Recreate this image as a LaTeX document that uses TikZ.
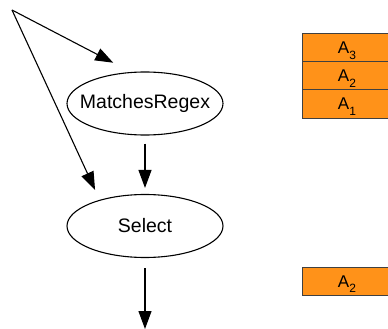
\documentclass[tikz,border=0pt]{standalone}
\usepackage{fontspec}
\setmainfont{Liberation Sans}
\usetikzlibrary{shapes.geometric,arrows.meta}
\definecolor{tuple}{HTML}{FF9219}
% lowered index that does not change the height of the label
\newcommand{\lowidx}[1]{\raisebox{-5.5pt}[0pt][0pt]{\fontsize{12}{12}\selectfont #1}}

\begin{document}
\begin{tikzpicture}[x=1pt,y=-1pt,
  op/.style={draw,ellipse,line width=1.1pt,minimum width=156pt,minimum height=63pt,inner sep=0pt,font=\fontsize{19.5}{20}\selectfont},
  row/.style={draw=black!75,fill=tuple,line width=0.8pt,minimum width=90pt,minimum height=28.5pt,inner sep=0pt,font=\fontsize{17}{18}\selectfont},
  flow/.style={line width=1.1pt,-{Triangle[length=18pt,width=13pt]}}]
\useasboundingbox (0,0) rectangle (388,329);
\clip (0,0) rectangle (388,329);
% operators
\node[op] (match) at (145,103.5) {\makebox[0pt]{MatchesRegex}};
\node[op] (select) at (145,226) {\makebox[0pt]{Select}};
\coordinate (in) at (12,10);
\coordinate (out) at (145,329);
\draw[flow,shorten >=20pt] (in) -- (match.114);
\draw[flow,shorten >=11pt] (in) -- (select.150);
\draw[flow,shorten <=8pt,shorten >=6pt] (match) -- (select);
\draw[flow,shorten <=10pt] (select) -- (out);
% tuples before and after
\foreach \k [count=\r from 0] in {3,2,1}
  \node[row] (a\k) at (347,48+28*\r) {A\lowidx{\k}};
\node[row] (res) at (347,281.5) {A\lowidx{2}};
\end{tikzpicture}
\end{document}
